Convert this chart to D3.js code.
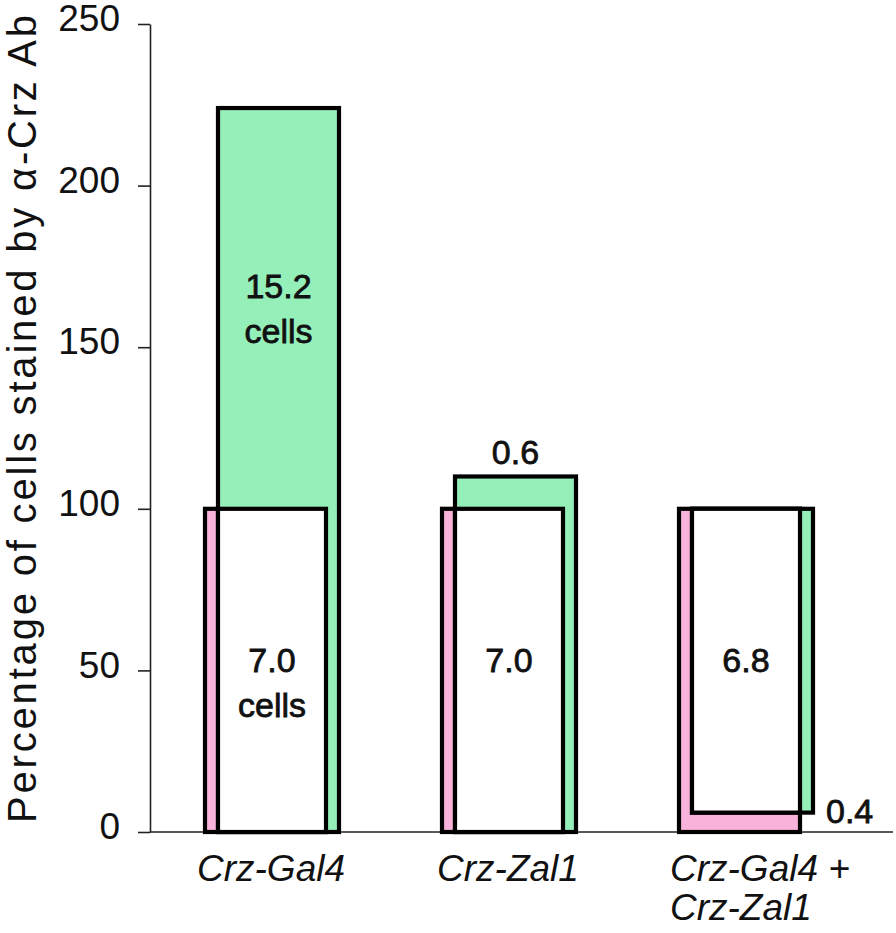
<!DOCTYPE html>
<html>
<head>
<meta charset="utf-8">
<script src="https://cdn.jsdelivr.net/npm/d3@7"></script>
<style>
  html, body { margin: 0; padding: 0; background: #fff; }
  svg { display: block; }
  text { font-family: "Liberation Sans", Arial, Helvetica, sans-serif; fill: #111; }
</style>
</head>
<body>
<svg id="chart" width="896" height="933"></svg>
<script>
// ---- data ----
const groups = ["Crz-Gal4", "Crz-Zal1", "Crz-Gal4 + Crz-Zal1"];
const groupLines = [["Crz-Gal4"], ["Crz-Zal1"], ["Crz-Gal4 +", "Crz-Zal1"]];
const pinkLow = [0, 0, 0];
const pinkHigh = [100, 100, 100];
const greenLow = [0, 0, 6];
const greenHigh = [224, 110, 100];
const whiteLabels = [["7.0", "cells"], ["7.0"], ["6.8"]];
const greenLabels = [["15.2", "cells"], ["0.6"], ["0.4"]];
const greenLabelMode = ["inside", "above", "right"];
const yTicks = [0, 50, 100, 150, 200, 250];
const yTitle = "Percentage of cells stained by α-Crz Ab";

// ---- layout ----
const svg = d3.select("#chart");
const y = d3.scaleLinear().domain([0, 250]).range([832, 24]);
const xc = d3.scalePoint().domain(groups).range([271, 745]);
const pinkL = -66, pinkR = 55, greenL = -53, greenR = 68;
const PINK = "#f9b3da", GREEN = "#95efb9";

// y axis
const yAxis = d3.axisLeft(y).tickValues(yTicks).tickSize(12).tickSizeOuter(0).tickPadding(18);
const ga = svg.append("g").attr("transform", "translate(150,0)").call(yAxis);
ga.select(".domain").attr("stroke", "#222").attr("stroke-width", 1.6);
ga.selectAll(".tick line").attr("stroke", "#222").attr("stroke-width", 1.6);
ga.selectAll(".tick text")
  .attr("font-size", 37)
  .attr("dy", "0.18em")
  .style("font-family", '"Liberation Sans", Arial, sans-serif')
  .attr("fill", "#111");

// baseline
svg.append("line")
  .attr("x1", 150).attr("x2", 893)
  .attr("y1", y(0)).attr("y2", y(0))
  .attr("stroke", "#222").attr("stroke-width", 1.6);

// y title
const yt = svg.append("text")
  .attr("transform", `translate(36, ${(12 + 823) / 2}) rotate(-90)`)
  .attr("text-anchor", "middle")
  .attr("font-size", 40)
  .text(yTitle);
{
  const len = yt.node().getComputedTextLength();
  const target = 808;
  const ls = (target - len) / (yTitle.length - 1);
  yt.attr("letter-spacing", ls.toFixed(2));
}

// bars
const idx = d3.range(groups.length);
const g = svg.append("g");
function rect(sel, x0, x1, v0, v1, fill) {
  sel.append("rect")
    .attr("x", x0).attr("width", x1 - x0)
    .attr("y", y(v1)).attr("height", y(v0) - y(v1))
    .attr("fill", fill).attr("stroke", "#000").attr("stroke-width", 4.2)
    .attr("stroke-linejoin", "miter");
}
function label(sel, x, yy, t, anchor) {
  sel.append("text").attr("x", x).attr("y", yy)
    .attr("text-anchor", anchor).attr("font-size", 34)
    .attr("stroke", "#111").attr("stroke-width", 0.8)
    .text(t);
}
idx.forEach(i => {
  const c = xc(groups[i]);
  const gi = g.append("g");
  rect(gi, c + pinkL, c + pinkR, pinkLow[i], pinkHigh[i], PINK);
  rect(gi, c + greenL, c + greenR, greenLow[i], greenHigh[i], GREEN);
  const wl = Math.max(pinkLow[i], greenLow[i]);
  const wh = Math.min(pinkHigh[i], greenHigh[i]);
  rect(gi, c + greenL, c + pinkR, wl, wh, "#fff");

  // white labels
  const wx = c + (greenL + pinkR) / 2;
  whiteLabels[i].forEach((t, k) => label(gi, wx, y(50) + 2 + k * 45, t, "middle"));
  // green labels
  const gx = c + (greenL + greenR) / 2;
  const mode = greenLabelMode[i];
  greenLabels[i].forEach((t, k) => {
    if (mode === "inside") {
      label(gi, gx, y((pinkHigh[i] + greenHigh[i]) / 2) - 10 + k * 45, t, "middle");
    } else if (mode === "above") {
      label(gi, gx, y(greenHigh[i]) - 12, t, "middle");
    } else {
      label(gi, c + greenR + 13, y(0) - 9, t, "start");
    }
  });
});

// category labels
idx.forEach(i => {
  const c = xc(groups[i]);
  const lines = groupLines[i];
  const multi = lines.length > 1;
  lines.forEach((t, k) => {
    svg.append("text")
      .attr("x", multi ? c + pinkL - 9 : c)
      .attr("y", 881 + k * 39)
      .attr("text-anchor", multi ? "start" : "middle")
      .attr("font-size", 37)
      .attr("font-style", "italic")
      .text(t);
  });
});
</script>
</body>
</html>
